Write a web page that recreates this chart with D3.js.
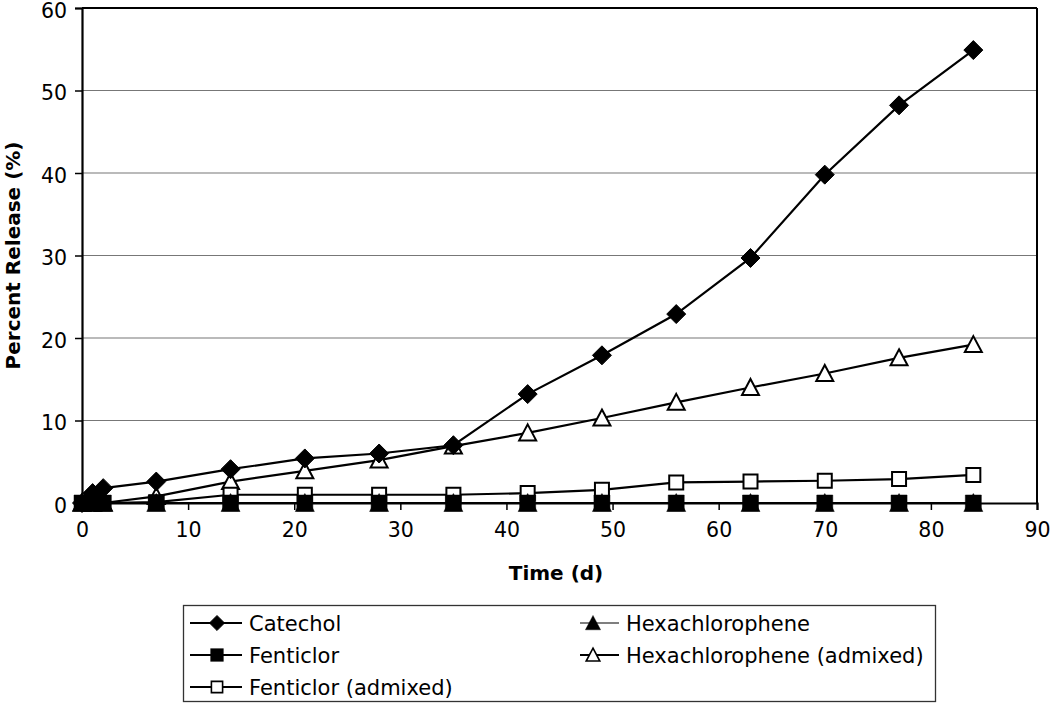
<!DOCTYPE html>
<html><head><meta charset="utf-8">
<script src="https://cdn.jsdelivr.net/npm/d3@7"></script>
<style>body{margin:0;background:#fff}svg{display:block;font-family:"DejaVu Sans",Verdana,sans-serif}</style>
</head><body><svg id="c" width="1050" height="703"></svg>
<script>
const times = [0, 1, 2, 7, 14, 21, 28, 35, 42, 49, 56, 63, 70, 77, 84];
const catechol = [0, 1.2, 1.8, 2.6, 4.1, 5.4, 6.0, 7.0, 13.2, 17.9, 22.9, 29.7, 39.8, 48.2, 54.9];
const fenticlor = [0, 0, 0, 0, 0, 0, 0, 0, 0, 0, 0, 0, 0, 0, 0];
const fenticlorAdmixed = [0, 0, 0, 0.1, 1.0, 1.0, 1.0, 1.0, 1.2, 1.6, 2.5, 2.6, 2.7, 2.9, 3.4];
const hexachlorophene = [0, 0, 0, 0, 0, 0, 0, 0, 0, 0, 0, 0, 0, 0, 0];
const hexAdmixed = [0, 0, 0, 0.8, 2.6, 3.9, 5.2, 6.9, 8.5, 10.3, 12.2, 14.0, 15.7, 17.6, 19.2];
const xTicks = [0, 10, 20, 30, 40, 50, 60, 70, 80, 90];
const yTicks = [0, 10, 20, 30, 40, 50, 60];

const series = [
  {name: "Catechol", values: catechol, marker: "diamond", fill: "#000", lw: 2.2},
  {name: "Fenticlor", values: fenticlor, marker: "square", fill: "#000", lw: 2.2},
  {name: "Fenticlor (admixed)", values: fenticlorAdmixed, marker: "square", fill: "#fff", lw: 2.2},
  {name: "Hexachlorophene", values: hexachlorophene, marker: "triangle", fill: "#000", lw: 1.2},
  {name: "Hexachlorophene (admixed)", values: hexAdmixed, marker: "triangle", fill: "#fff", lw: 2.2}
];
const drawOrder = [4, 2, 0, 3, 1];

const svg = d3.select("#c");
const L = 82, R = 1037, T = 8, B = 503;
const x = d3.scaleLinear().domain([0, 90]).range([L, R]);
const y = d3.scaleLinear().domain([0, 60]).range([B, T]);

// gridlines
svg.append("g").selectAll("line").data(yTicks.filter(v => v > 0)).join("line")
  .attr("x1", L).attr("x2", R).attr("y1", d => y(d)).attr("y2", d => y(d))
  .attr("stroke", "#777").attr("stroke-width", 1.2);

// frame top/right
svg.append("line").attr("x1", L).attr("x2", R).attr("y1", T).attr("y2", T).attr("stroke", "#000").attr("stroke-width", 2);
svg.append("line").attr("x1", R).attr("x2", R).attr("y1", T).attr("y2", B).attr("stroke", "#000").attr("stroke-width", 2);

// axes
const xAxis = svg.append("g").attr("transform", `translate(0,${B})`)
  .call(d3.axisBottom(x).tickValues(xTicks).tickSize(7).tickPadding(10).tickFormat(d3.format("d")));
const yAxis = svg.append("g").attr("transform", `translate(${L},0)`)
  .call(d3.axisLeft(y).tickValues(yTicks).tickSize(7).tickPadding(8).tickFormat(d3.format("d")));
[xAxis, yAxis].forEach(a => {
  a.select(".domain").attr("stroke", "#000").attr("stroke-width", 2.2);
  a.selectAll(".tick line").attr("stroke", "#000").attr("stroke-width", 1.5);
  a.selectAll(".tick text").attr("font-size", 20.5).attr("fill", "#000").attr("font-family", "DejaVu Sans, Verdana, sans-serif");
});
xAxis.selectAll(".tick text").attr("dy", "0.85em");
yAxis.selectAll(".tick text").attr("dy", "0.45em");

svg.append("text").attr("x", 556).attr("y", 580).attr("text-anchor", "middle")
  .attr("font-size", 20).attr("font-weight", "bold").text("Time (d)");
svg.append("text").attr("transform", `translate(20,${(T + B) / 2}) rotate(-90)`).attr("text-anchor", "middle")
  .attr("font-size", 20).attr("font-weight", "bold").text("Percent Release (%)");

function markerSel(g, s) {
  const p = g.append("path").attr("fill", s.fill).attr("stroke", "#000").attr("stroke-width", 2);
  if (s.marker === "diamond") p.attr("d", "M0,-9.5L9.5,0L0,9.5L-9.5,0Z").attr("stroke-width", 1);
  else if (s.marker === "square") p.attr("d", s.fill === "#fff" ? "M-7,-7H7V7H-7Z" : "M-8,-8H8V8H-8Z").attr("stroke-width", s.fill === "#fff" ? 2 : 0.5);
  else p.attr("d", s.fill === "#fff" ? "M0,-8.5L8.5,7.5H-8.5Z" : "M0,-9.5L9.5,8.5H-9.5Z").attr("stroke-width", s.fill === "#fff" ? 2 : 0.5);
  return p;
}

const line = d3.line().x(d => x(d[0])).y(d => y(d[1]));
drawOrder.forEach(i => {
  const s = series[i];
  const pts = times.map((t, k) => [t, s.values[k]]);
  const g = svg.append("g");
  g.append("path").attr("d", line(pts)).attr("fill", "none").attr("stroke", "#000").attr("stroke-width", s.lw);
  pts.forEach(p => {
    const mg = g.append("g").attr("transform", `translate(${x(p[0])},${y(p[1])})`);
    markerSel(mg, s);
  });
});

// legend
const lg = svg.append("g");
lg.append("rect").attr("x", 183.5).attr("y", 605.5).attr("width", 752).attr("height", 96)
  .attr("fill", "#fff").attr("stroke", "#333").attr("stroke-width", 1.3);
const legendPos = [
  {i: 0, x: 190, y: 623}, {i: 1, x: 190, y: 655}, {i: 2, x: 190, y: 687},
  {i: 3, x: 580, y: 623}, {i: 4, x: 580, y: 655}
];
legendPos.forEach(p => {
  const s = series[p.i];
  const w = p.x < 300 ? 52 : 39;
  lg.append("line").attr("x1", p.x).attr("x2", p.x + w).attr("y1", p.y).attr("y2", p.y)
    .attr("stroke", "#000").attr("stroke-width", s.lw);
  const mx = p.x < 300 ? p.x + 27 : p.x + 13;
  const mg = lg.append("g");
  markerSel(mg, s);
  mg.attr("transform", `translate(${mx},${p.y}) scale(0.8)`);
  lg.append("text").attr("x", p.x + w + 7).attr("y", p.y).attr("dy", "0.36em")
    .attr("font-size", 21).attr("fill", "#000").text(s.name);
});
</script></body></html>
